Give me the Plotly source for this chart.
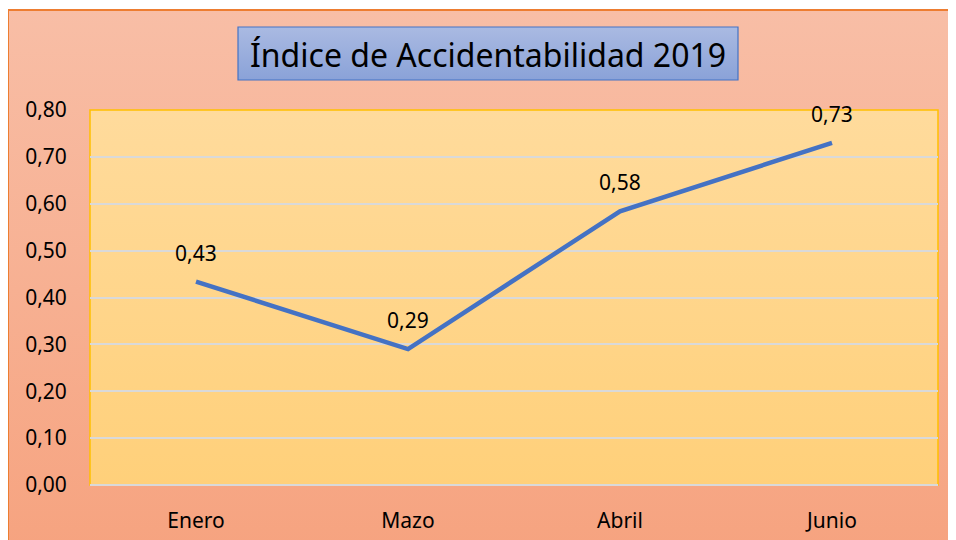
import base64
import plotly.graph_objects as go

months = ["Enero", "Mazo", "Abril", "Junio"]
values = [0.434, 0.29, 0.584, 0.73]
value_labels = ["0,43", "0,29", "0,58", "0,73"]
y_ticks = [0.0, 0.1, 0.2, 0.3, 0.4, 0.5, 0.6, 0.7, 0.8]
y_tick_labels = ["0,00", "0,10", "0,20", "0,30", "0,40", "0,50", "0,60", "0,70", "0,80"]
title = "Índice de Accidentabilidad 2019"

OFF = 8  # page body margin
W, H = 956, 540
L, T = 90 - OFF, 110 - OFF
PW, PH = 848, 375
R, B = W - L - PW, H - T - PH


def fx(px):
    # px is a screen pixel position
    return (px - OFF - L) / PW


def fy(py):
    return (T + PH - (py - OFF)) / PH


def grad(top, bottom):
    svg = (
        '<svg xmlns="http://www.w3.org/2000/svg" width="100" height="100" preserveAspectRatio="none">'
        '<defs><linearGradient id="g" x1="0" y1="0" x2="0" y2="1">'
        f'<stop offset="0" stop-color="{top}"/><stop offset="1" stop-color="{bottom}"/>'
        '</linearGradient></defs><rect width="100" height="100" fill="url(#g)"/></svg>'
    )
    return "data:image/svg+xml;base64," + base64.b64encode(svg.encode()).decode()


FONT = "Noto Sans"
FS = 21

fig = go.Figure()
fig.add_trace(go.Scatter(
    x=months, y=values, mode="lines",
    line=dict(color="#4472C4", width=4.5),
    hoverinfo="skip", showlegend=False,
))

for m, v, t in zip(months, values, value_labels):
    fig.add_annotation(x=m, y=v, xref="x", yref="y", text=t, showarrow=False,
                       yshift=29, yanchor="middle",
                       font=dict(family=FONT, size=FS, color="#000000"))

fig.add_annotation(x=fx(488), y=fy(54), xref="paper", yref="paper", text=title,
                   showarrow=False, xanchor="center", yanchor="middle",
                   font=dict(family=FONT, size=32, color="#000000"))

images = [
    dict(source=grad("#F8BEA6", "#F6A27E"), xref="paper", yref="paper",
         x=fx(8), y=fy(10), sizex=(W + 20) / PW, sizey=(H + 20) / PH,
         xanchor="left", yanchor="top", sizing="stretch", layer="below"),
    dict(source=grad("#FFDB9C", "#FFD07A"), xref="paper", yref="paper",
         x=0, y=1, sizex=1, sizey=1,
         xanchor="left", yanchor="top", sizing="stretch", layer="below"),
    dict(source=grad("#AABAE2", "#8AA2D8"), xref="paper", yref="paper",
         x=fx(238), y=fy(27), sizex=500 / PW, sizey=53 / PH,
         xanchor="left", yanchor="top", sizing="stretch", layer="below"),
]

shapes = [
    dict(type="line", xref="paper", yref="paper", x0=fx(8), y0=fy(10), x1=fx(8), y1=fy(H + 40),
         line=dict(color="#ED7D31", width=2), layer="above"),
    dict(type="line", xref="paper", yref="paper", x0=fx(8), y0=fy(10), x1=fx(W + 40), y1=fy(10),
         line=dict(color="#ED7D31", width=2), layer="above"),
    dict(type="rect", xref="paper", yref="paper", x0=0, y0=0, x1=1, y1=1,
         line=dict(color="#FFC000", width=1.5), fillcolor="rgba(0,0,0,0)", layer="below"),
    dict(type="rect", xref="paper", yref="paper", x0=fx(238), y0=fy(80), x1=fx(738), y1=fy(27),
         line=dict(color="#4472C4", width=1.2), fillcolor="rgba(0,0,0,0)", layer="above"),
]

fig.update_layout(
    width=W, height=H,
    margin=dict(l=L, r=R, t=T, b=B, pad=0, autoexpand=False),
    paper_bgcolor="#FFFFFF",
    plot_bgcolor="rgba(0,0,0,0)",
    images=images,
    shapes=shapes,
    font=dict(family=FONT, size=FS, color="#000000"),
    xaxis=dict(
        type="category", range=[-0.5, 3.5], showgrid=False, zeroline=False, showline=False,
        ticks="outside", ticklen=17, tickcolor="rgba(0,0,0,0)", automargin=False,
        tickfont=dict(family=FONT, size=FS, color="#000000"), fixedrange=True,
    ),
    yaxis=dict(
        range=[0, 0.8], tickvals=y_ticks, ticktext=y_tick_labels,
        showgrid=True, gridcolor="#D9D9D9", gridwidth=2, automargin=False,
        zeroline=True, zerolinecolor="#D9D9D9", zerolinewidth=2, showline=False,
        ticks="outside", ticklen=18, tickcolor="rgba(0,0,0,0)",
        tickfont=dict(family=FONT, size=FS, color="#000000"), fixedrange=True,
    ),
)

fig.write_html("out.html")
